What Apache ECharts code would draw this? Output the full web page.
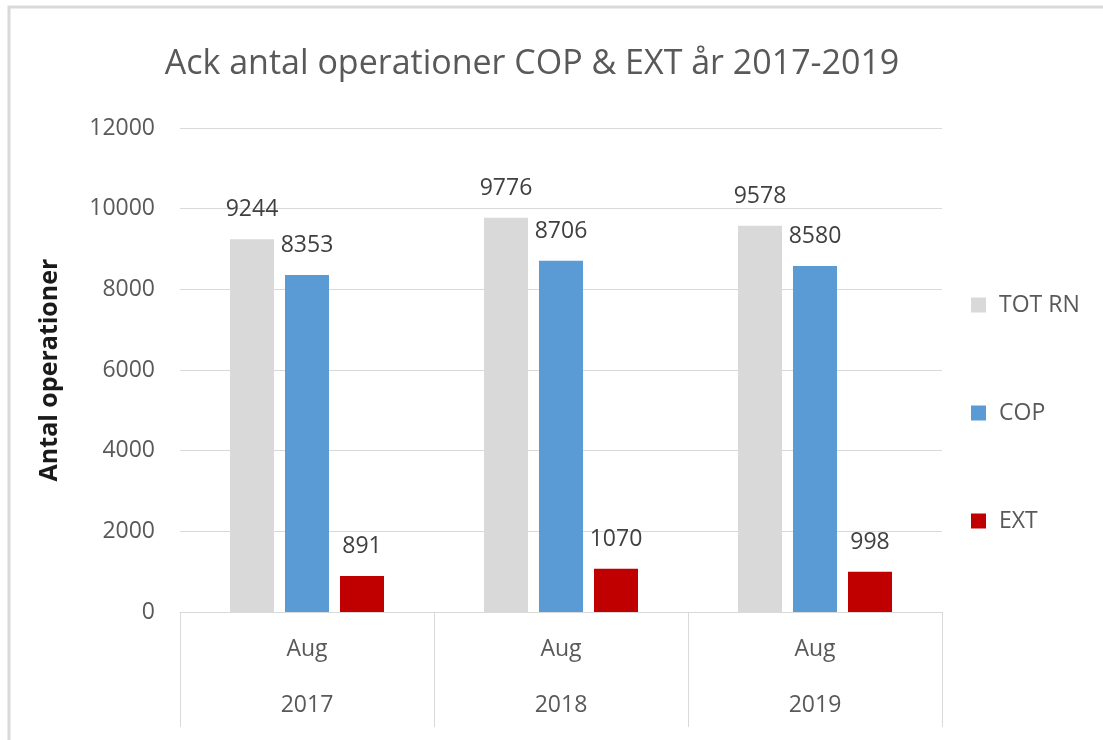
<!DOCTYPE html>
<html>
<head>
<meta charset="utf-8">
<script src="https://cdn.jsdelivr.net/npm/echarts@6/dist/echarts.min.js"></script>
<style>
  html, body { margin: 0; padding: 0; background: #fff; }
  #chart { width: 1103px; height: 740px; }
</style>
</head>
<body>
<div id="chart"></div>
<script>
const months = ['Aug', 'Aug', 'Aug'];
const years = ['2017', '2018', '2019'];
const totRn = [9244, 9776, 9578];
const cop = [8353, 8706, 8580];
const ext = [891, 1070, 998];

const FONT = '"Open Sans", "Noto Sans", sans-serif';

const chart = echarts.init(document.getElementById('chart'));

const barLabel = {
  show: true,
  position: 'top',
  distance: 18,
  fontSize: 23,
  color: '#404040',
  fontFamily: FONT
};

const option = {
  animation: false,
  backgroundColor: '#fff',
  textStyle: { fontFamily: FONT },
  graphic: [{
    type: 'rect',
    shape: { x: 9, y: 7, width: 1200, height: 800 },
    style: { fill: 'none', stroke: '#d9d9d9', lineWidth: 3 },
    silent: true
  }],
  title: {
    text: 'Ack antal operationer COP & EXT år 2017-2019',
    left: 527,
    textAlign: 'center',
    top: 42,
    textStyle: { fontSize: 34, fontWeight: 'normal', color: '#595959', fontFamily: FONT }
  },
  legend: {
    orient: 'vertical',
    left: 966,
    top: 288,
    itemWidth: 15,
    itemHeight: 15,
    itemGap: 84,
    icon: 'rect',
    textStyle: { fontSize: 23, color: '#595959', lineHeight: 24, padding: [0, 0, 0, 8] },
    data: ['TOT RN', 'COP', 'EXT']
  },
  grid: { left: 180, right: 161, top: 128, bottom: 128 },
  xAxis: [{
    type: 'category',
    data: months,
    axisLine: { lineStyle: { color: '#d9d9d9', width: 1 } },
    axisTick: { show: true, length: 115, lineStyle: { color: '#d9d9d9', width: 1 } },
    axisLabel: { margin: 26, fontSize: 23, color: '#595959' }
  }, {
    type: 'category',
    data: years,
    position: 'bottom',
    offset: 56,
    axisLine: { show: false },
    axisTick: { show: false },
    axisLabel: { margin: 26, fontSize: 23, color: '#595959' }
  }],
  yAxis: {
    type: 'value',
    min: 0,
    max: 12000,
    interval: 2000,
    name: 'Antal operationer',
    nameLocation: 'middle',
    nameGap: 118,
    nameTextStyle: { fontSize: 25, fontWeight: 'bold', color: '#1a1a1a', fontFamily: FONT },
    axisLine: { show: false },
    axisTick: { show: false },
    axisLabel: { margin: 25, fontSize: 23, color: '#595959', formatter: v => String(v) },
    splitLine: { lineStyle: { color: '#d9d9d9', width: 1 } }
  },
  series: [{
    name: 'TOT RN',
    type: 'bar',
    data: totRn,
    barWidth: 44,
    barGap: '25%',
    itemStyle: { color: '#d9d9d9' },
    label: barLabel
  }, {
    name: 'COP',
    type: 'bar',
    data: cop,
    barWidth: 44,
    barGap: '25%',
    itemStyle: { color: '#5b9bd5' },
    label: barLabel
  }, {
    name: 'EXT',
    type: 'bar',
    data: ext,
    barWidth: 44,
    barGap: '25%',
    itemStyle: { color: '#c00000' },
    label: barLabel
  }]
};

chart.setOption(option);
</script>
</body>
</html>
